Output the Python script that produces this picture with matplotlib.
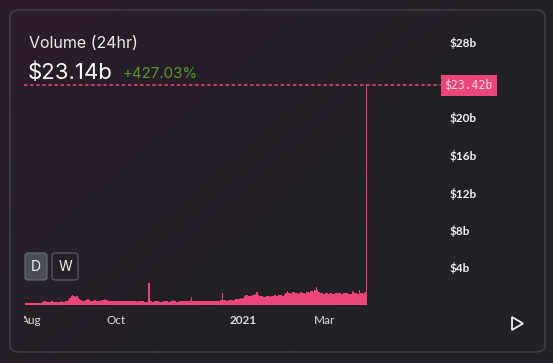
import datetime as dt
import numpy as np
import matplotlib
matplotlib.use("Agg")
import matplotlib.pyplot as plt
import matplotlib.dates as mdates
from matplotlib.patches import FancyBboxPatch, Polygon
from matplotlib.transforms import Bbox, TransformedBbox

# daily 24h volume in billions of USD, 2020-07-28 .. 2021-03-31
jul = [0.22, 0.2, 0.25, 0.23]
aug = [0.22, 0.24, 0.2, 0.23, 0.25, 0.22, 0.26, 0.24, 0.28, 0.38, 0.42, 0.36, 0.35, 0.33, 0.36, 0.38,
       0.34, 0.35, 0.37, 0.33, 0.36, 0.34, 0.38, 0.35, 0.36, 0.4, 0.38, 0.55, 0.72, 0.95, 1.05]
sep = [1.0, 0.85, 0.95, 0.75, 0.6, 0.5, 0.48, 0.45, 0.52, 0.55, 0.62, 0.5, 0.48, 0.45, 0.47, 0.5,
       0.46, 0.44, 0.48, 0.45, 0.5, 0.55, 0.6, 0.52, 0.5, 0.46, 0.48, 0.45, 0.44, 0.47]
oct_ = [0.45, 0.42, 0.4, 0.38, 0.4, 0.43, 0.45, 0.48, 0.42, 0.4, 0.38, 0.4, 0.44, 0.42, 0.4, 0.38,
        0.37, 0.4, 0.42, 0.45, 0.4, 0.33, 0.3, 0.32, 2.3, 0.45, 0.38, 0.35, 0.4, 0.42, 0.38]
nov = [0.38, 0.35, 0.32, 0.36, 0.4, 0.45, 0.38, 0.34, 0.36, 0.4, 0.42, 0.5, 0.38, 0.36, 0.34, 0.4,
       0.45, 0.42, 0.38, 0.48, 0.44, 0.4, 0.42, 0.5, 0.85, 0.45, 0.4, 0.38, 0.42, 0.4]
dec = [0.45, 0.42, 0.44, 0.48, 0.4, 0.38, 0.42, 0.45, 0.47, 0.44, 0.42, 0.4, 0.43, 0.45, 0.48, 0.5,
       1.25, 0.55, 0.5, 0.48, 0.46, 0.5, 0.52, 0.5, 0.48, 0.5, 0.65, 0.68, 0.66, 0.7, 0.68]
jan = [0.7, 0.98, 1.02, 1.05, 0.95, 1.0, 0.98, 1.05, 1.1, 1.15, 1.4, 1.08, 0.95, 0.92, 0.98, 0.9,
       0.88, 0.95, 1.0, 0.92, 0.88, 0.95, 1.0, 1.05, 0.98, 0.95, 1.1, 1.12, 1.05, 1.0, 1.08]
feb = [1.3, 1.45, 1.25, 1.3, 1.2, 1.35, 1.4, 1.3, 1.25, 1.2, 1.3, 1.35, 1.25, 1.3, 1.2, 1.4,
       1.35, 1.3, 1.45, 1.5, 1.4, 1.55, 1.95, 1.6, 1.35, 1.3, 1.25, 1.2]
mar = [1.2, 1.25, 1.3, 1.2, 1.25, 1.3, 1.22, 1.18, 1.25, 1.3, 1.28, 1.25, 1.2, 1.22, 1.3, 1.28,
       1.25, 1.2, 1.18, 1.2, 1.5, 1.35, 1.25, 1.3, 1.2, 1.55, 1.3, 1.25, 1.2, 1.4, 23.42]

volume = jul + aug + sep + oct_ + nov + dec + jan + feb + mar
start = dt.date(2020, 7, 28)
days = [start + dt.timedelta(days=i) for i in range(len(volume))]

yticks = [4, 8, 12, 16, 20, 24, 28]
ytick_labels = ["$4b", "$8b", "$12b", "$16b", "$20b", "$24b", "$28b"]
xticks = [dt.date(2020, 8, 1), dt.date(2020, 10, 1), dt.date(2021, 1, 1), dt.date(2021, 3, 1)]
xtick_labels = ["Aug", "Oct", "2021", "Mar"]

current = 23.42
pink = "#ec4579"

W, H = 553, 363
fig = plt.figure(figsize=(W / 100, H / 100), dpi=100)


def fx(x):
    return x / W


def fy(y):
    return 1 - y / H


# background gradient
bg = fig.add_axes([0, 0, 1, 1])
bg.set_axis_off()
yy, xx = np.mgrid[0:1:100j, 0:1:150j]
t = np.clip((xx * 0.8 + yy * 0.6), 0, 1)[..., None]
c0 = np.array([44, 28, 44]) / 255
c1 = np.array([33, 33, 38]) / 255
bg.imshow(c0 * (1 - t) + c1 * t, aspect="auto", extent=[0, 1, 1, 0])
bg.set_xlim(0, 1)
bg.set_ylim(1, 0)

# card
fig.add_artist(FancyBboxPatch((fx(10), fy(352)), fx(535), 342 / H,
                              boxstyle="round,pad=0,rounding_size=0.018",
                              transform=fig.transFigure, facecolor="none",
                              edgecolor="#43414b", linewidth=1.0))

ax = fig.add_axes([fx(24), fy(305), fx(441 - 24), (305 - 30) / H])
ax.patch.set_alpha(0)
ax.bar(days, volume, width=1.0, color=pink, linewidth=0, align="center")

d0 = mdates.date2num(start)
ax.set_xlim(d0 - 1.2, d0 + 300)
ax.set_ylim(0, 275 / 9.375)

for s in ax.spines.values():
    s.set_visible(False)

ax.yaxis.tick_right()
ax.set_yticks(yticks)
ax.set_yticklabels(ytick_labels, fontfamily="Lato", fontweight="bold", fontsize=8.5, color="#f2f2f2")
for lbl in ax.get_yticklabels():
    lbl.set_horizontalalignment("left")
ax.tick_params(axis="y", length=0, pad=6.5)

ax.set_xticks(xticks)
ax.set_xticklabels(xtick_labels, fontfamily="Lato", fontsize=8.5, color="#dcdcdc")
ax.tick_params(axis="x", length=0, pad=7.5)
clip = TransformedBbox(Bbox([[fx(24), 0], [1, 1]]), fig.transFigure)
for lbl in ax.get_xticklabels():
    lbl.set_clip_box(clip)
    lbl.set_clip_on(True)
    if lbl.get_text() == "2021":
        lbl.set_fontweight("bold")

# current value line and tag
ax.axhline(current, color=pink, linewidth=1.1, linestyle=(0, (2.2, 1.8)))
ax.annotate("$23.42b", xy=(1.0, current), xycoords=ax.get_yaxis_transform(),
            xytext=(3, 0), textcoords="offset points", ha="left", va="center",
            fontfamily="DejaVu Sans Mono", fontsize=8.3, color="#ffe0ea", zorder=5,
            bbox=dict(boxstyle="square,pad=0.32", facecolor=pink, edgecolor="none"))

# header
fig.text(fx(29), fy(44), "Volume (24hr)", fontfamily="Inter", fontsize=11.5, color="#ececec",
         va="center", ha="left")
fig.text(fx(28), fy(73), "$23.14b", fontfamily="Inter", fontsize=16, color="#ffffff",
         va="center", ha="left")
fig.text(fx(123), fy(74), "+427.03%", fontfamily="Inter", fontsize=10.8, color="#4f9f1d",
         va="center", ha="left")

# D / W buttons
fig.add_artist(FancyBboxPatch((fx(25), fy(280)), fx(22), 27 / H,
                              boxstyle="round,pad=0,rounding_size=0.006",
                              transform=fig.transFigure, facecolor="#4a4d57",
                              edgecolor="#6a6d77", linewidth=0.8))
fig.text(fx(36), fy(267), "D", fontfamily="Inter", fontsize=10, color="#f0f0f0", ha="center", va="center")
fig.add_artist(FancyBboxPatch((fx(52), fy(280)), fx(26), 27 / H,
                              boxstyle="round,pad=0,rounding_size=0.006",
                              transform=fig.transFigure, facecolor="none",
                              edgecolor="#5e5f68", linewidth=0.8))
fig.text(fx(65), fy(267), "W", fontfamily="Inter", fontsize=10, color="#f0f0f0", ha="center", va="center")

# play icon
fig.add_artist(Polygon([(fx(512), fy(317)), (fx(512), fy(330)), (fx(523), fy(323.5))], closed=True,
                       transform=fig.transFigure, facecolor="none", edgecolor="#f0f0f0", linewidth=1.3))

fig.savefig("out.png", dpi=100)
